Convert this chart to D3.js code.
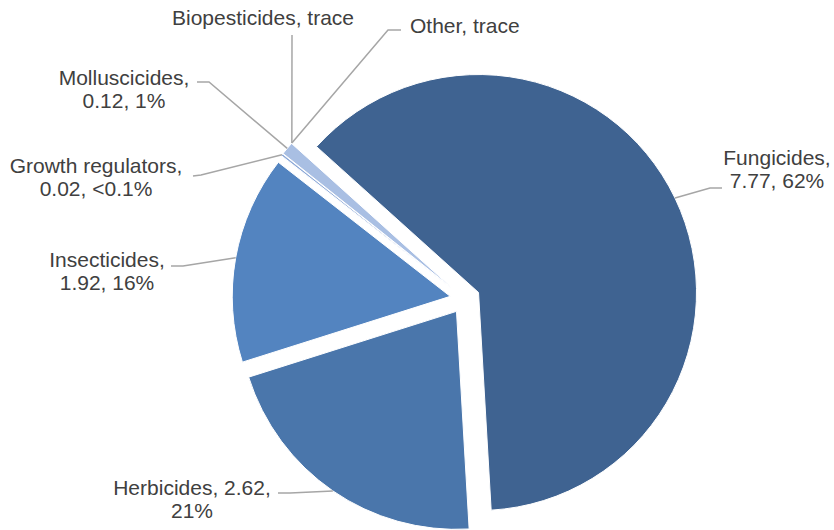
<!DOCTYPE html>
<html>
<head>
<meta charset="utf-8">
<script src="https://cdn.jsdelivr.net/npm/d3@7"></script>
<style>
  html, body { margin: 0; padding: 0; background: #ffffff; }
  svg { display: block; }
  text { font-family: "Liberation Sans", Arial, sans-serif; font-size: 21px; fill: #404040; }
</style>
</head>
<body>
<svg id="chart" width="834" height="530"></svg>
<script>
// Pesticide sales by category (value, share)
const categories = ["Fungicides", "Herbicides", "Insecticides", "Growth regulators", "Molluscicides", "Biopesticides", "Other"];
const values = [7.77, 2.62, 1.92, 0.02, 0.12, 0, 0];
const labelLines = [
  ["Fungicides,", "7.77, 62%"],
  ["Herbicides, 2.62,", "21%"],
  ["Insecticides,", "1.92, 16%"],
  ["Growth regulators,", "0.02, <0.1%"],
  ["Molluscicides,", "0.12, 1%"],
  ["Biopesticides, trace"],
  ["Other, trace"]
];

// Slice fills
const colors = ["#3f6391", "#4a76ab", "#5384c0", "#8eaad8", "#a9bfe3", "#c5d4ec", "#dce5f3"];

// Layout
const cx = 465, cy = 299;
const radius = 218;
const explode = 15;
const startDeg = -48;
const lineHeight = 23;

// Label placement: text centre/first baseline, leader start and elbow
const labelLayout = [
  { x: 777, y: 165, anchor: "middle", lead: [[722, 188], [710, 188]] },
  { x: 192, y: 495, anchor: "middle", lead: [[278, 493], [290, 493]] },
  { x: 107, y: 267, anchor: "middle", lead: [[171, 266], [183, 266]] },
  { x: 96,  y: 173, anchor: "middle", lead: [[193, 176], [201, 175]] },
  { x: 124, y: 85,  anchor: "middle", lead: [[197, 82], [209, 82]] },
  { x: 263, y: 25,  anchor: "middle", lead: [[292, 35], [292, 36]] },
  { x: 410, y: 33,  anchor: "start",  lead: [[401, 30], [388, 30]] }
];

const svg = d3.select("#chart");

const pie = d3.pie()
  .sort(null)
  .value(d => d)
  .startAngle(startDeg * Math.PI / 180)
  .endAngle(startDeg * Math.PI / 180 + 2 * Math.PI);

const arcs = pie(values);
const arc = d3.arc().innerRadius(0).outerRadius(radius);

function offsetOf(a) {
  const mid = (a.startAngle + a.endAngle) / 2;
  return [cx + explode * Math.sin(mid), cy - explode * Math.cos(mid)];
}

const g = svg.append("g");

g.selectAll("path.slice")
  .data(arcs)
  .join("path")
  .attr("class", "slice")
  .attr("transform", d => { const o = offsetOf(d); return `translate(${o[0]},${o[1]})`; })
  .attr("d", d => d.endAngle > d.startAngle ? arc(d) : null)
  .attr("fill", (d, i) => colors[i])
  .attr("stroke", "#ffffff")
  .attr("stroke-width", 1);

// Leader lines from label to slice edge
const line = d3.line();
g.selectAll("path.leader")
  .data(arcs)
  .join("path")
  .attr("class", "leader")
  .attr("d", (d, i) => {
    const mid = (d.startAngle + d.endAngle) / 2;
    const o = offsetOf(d);
    const edge = [o[0] + radius * Math.sin(mid), o[1] - radius * Math.cos(mid)];
    return line([...labelLayout[i].lead, edge]);
  })
  .attr("fill", "none")
  .attr("stroke", "#a6a6a6")
  .attr("stroke-width", 1.5);

// Labels
const labels = g.selectAll("text.label")
  .data(categories)
  .join("text")
  .attr("class", "label")
  .attr("text-anchor", (d, i) => labelLayout[i].anchor)
  .attr("x", (d, i) => labelLayout[i].x)
  .attr("y", (d, i) => labelLayout[i].y);

labels.each(function(d, i) {
  const t = d3.select(this);
  labelLines[i].forEach((s, k) => {
    t.append("tspan")
      .attr("x", labelLayout[i].x)
      .attr("y", labelLayout[i].y + k * lineHeight)
      .text(s);
  });
});
</script>
</body>
</html>
